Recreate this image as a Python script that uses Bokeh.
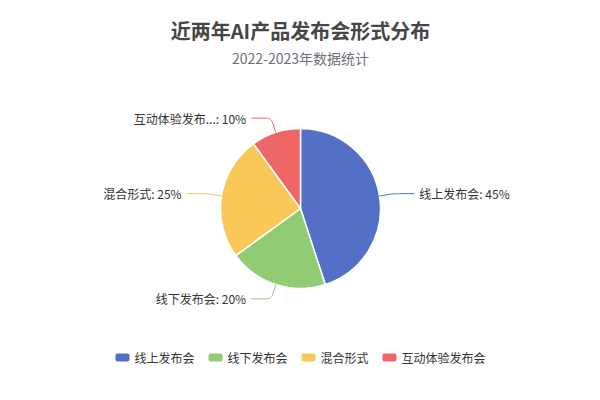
import numpy as np
from bokeh.plotting import figure
from bokeh.models import Range1d
from bokeh.core.properties import value
from bokeh.embed import file_html
from bokeh.resources import INLINE

# ---- data ----
categories = ["线上发布会", "线下发布会", "混合形式", "互动体验发布会"]
label_names = ["线上发布会", "线下发布会", "混合形式", "互动体验发布..."]
values = [45, 20, 25, 10]
colors = ["#5470c6", "#91cc75", "#fac858", "#ee6666"]
title_text = "近两年AI产品发布会形式分布"
subtitle_text = "2022-2023年数据统计"

FONT = "Noto Sans CJK SC"

W, H = 584, 384
p = figure(width=W, height=H, x_range=Range1d(0, W), y_range=Range1d(0, H),
           output_backend="svg", toolbar_location=None, min_border=0)
p.axis.visible = False
p.grid.visible = False
p.outline_line_color = None
p.background_fill_color = "white"
p.border_fill_color = "white"

def Y(s):  # screen y -> data y
    return H - s

# title
p.text(x=[300], y=[Y(30)], text=[title_text], text_font=value(FONT),
       text_font_size="20px", text_font_style="bold", text_color="#464646",
       text_align="center", text_baseline="middle")
p.text(x=[300], y=[Y(57)], text=[subtitle_text], text_font=value(FONT),
       text_font_size="14px", text_color="#6e7079",
       text_align="center", text_baseline="middle")

# pie
cx, cy, r = 300, Y(208), 80
vals = np.array(values, dtype=float)
frac = vals / vals.sum()
cum_end = np.cumsum(frac)
cum_start = cum_end - frac
start_angles = np.pi / 2 - 2 * np.pi * cum_end
end_angles = np.pi / 2 - 2 * np.pi * cum_start
p.wedge(x=[cx] * len(vals), y=[cy] * len(vals), radius=r, radius_units="screen",
        start_angle=list(start_angles), end_angle=list(end_angles),
        direction="anticlock", fill_color=colors, line_color="white", line_width=1.5)

# labels with label lines (slightly rounded corner)
L1, L2, RC = 15, 20, 5
t = np.linspace(0, 1, 12)
for i, name in enumerate(label_names):
    mid = (cum_start[i] + cum_end[i]) / 2
    th = 2 * np.pi * mid
    dx, dy = np.sin(th), np.cos(th)
    x0, y0 = cx + r * dx, cy + r * dy
    x1, y1 = cx + (r + L1) * dx, cy + (r + L1) * dy
    side = 1 if dx >= 0 else -1
    x2, y2 = x1 + side * L2, y1
    ax, ay = x1 - RC * dx, y1 - RC * dy
    bx, by = x1 + side * RC, y1
    qx = (1 - t) ** 2 * ax + 2 * (1 - t) * t * x1 + t ** 2 * bx
    qy = (1 - t) ** 2 * ay + 2 * (1 - t) * t * y1 + t ** 2 * by
    xs = [x0] + list(qx) + [x2]
    ys = [y0] + list(qy) + [y2]
    p.line(x=xs, y=ys, line_color=colors[i], line_width=1)
    pct = round(frac[i] * 100)
    p.text(x=[x2 + side * 5], y=[y2], text=[f"{name}: {pct}%"], text_font=value(FONT),
           text_font_size="12px", text_color="#333333",
           text_align="left" if side > 0 else "right", text_baseline="middle")

# legend
ITEM_W, ITEM_H, TXT_GAP, ITEM_GAP, FS = 14, 8, 5, 14, 12
widths = [ITEM_W + TXT_GAP + FS * len(c) for c in categories]
total = sum(widths) + ITEM_GAP * (len(categories) - 1)
x = 300 - total / 2
ly = Y(357)
for i, c in enumerate(categories):
    p.rect(x=[x + ITEM_W / 2], y=[ly], width=ITEM_W, height=ITEM_H,
           width_units="screen", height_units="screen",
           fill_color=colors[i], line_color=None, border_radius=2)
    p.text(x=[x + ITEM_W + TXT_GAP], y=[ly], text=[c], text_font=value(FONT),
           text_font_size="12px", text_color="#333333",
           text_align="left", text_baseline="middle")
    x += widths[i] + ITEM_GAP

open("out.html", "w").write(file_html(p, INLINE))
